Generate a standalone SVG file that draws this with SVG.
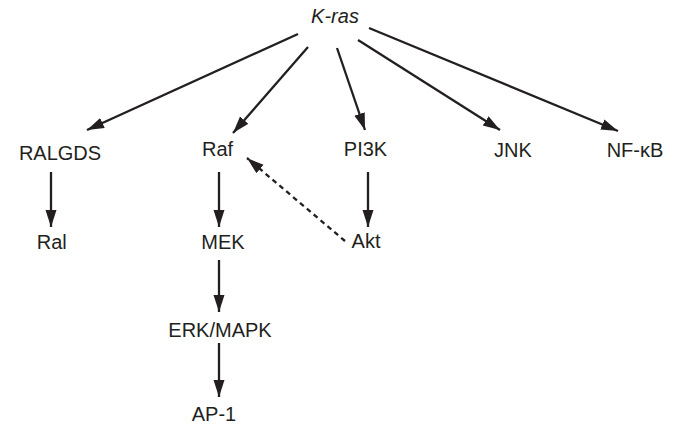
<svg xmlns="http://www.w3.org/2000/svg" width="681" height="426" viewBox="0 0 681 426">
<defs>
<marker id="ah" markerUnits="userSpaceOnUse" markerWidth="18" markerHeight="12" refX="17" refY="5.5" orient="auto">
<path d="M0,0 L17,5.5 L0,11 z" fill="#231f20"/>
</marker>
<style>
.t{font-family:"Liberation Sans",Arial,sans-serif;font-size:20px;fill:#231f20;text-anchor:middle}
.e{stroke:#231f20;stroke-width:2.3;fill:none;marker-end:url(#ah)}
.d{stroke-dasharray:5 4}
</style>
</defs>
<rect width="681" height="426" fill="#fff"/>
<g id="connectors">
<line class="e" x1="298" y1="34" x2="87" y2="130"/>
<line class="e" x1="308" y1="47" x2="233" y2="133"/>
<line class="e" x1="337" y1="48" x2="365" y2="130"/>
<line class="e" x1="358" y1="40" x2="500" y2="130"/>
<line class="e" x1="369" y1="28" x2="618" y2="131"/>
<line class="e" x1="51" y1="172" x2="51" y2="227"/>
<line class="e" x1="219" y1="172" x2="219" y2="227"/>
<line class="e" x1="368" y1="172" x2="368" y2="227"/>
<line class="e" x1="219" y1="260" x2="219" y2="312"/>
<line class="e" x1="219" y1="343" x2="219" y2="397"/>
<line class="e d" x1="345" y1="241" x2="247" y2="158"/>
</g>
<g id="kras"><text class="t" x="335" y="23" font-style="italic">K-ras</text></g>
<g id="ralgds"><text class="t" x="60" y="160">RALGDS</text></g>
<g id="raf"><text class="t" x="217.5" y="156">Raf</text></g>
<g id="pi3k"><text class="t" x="365.5" y="156">PI3K</text></g>
<g id="jnk"><text class="t" x="513" y="157">JNK</text></g>
<g id="nfkb"><text class="t" x="635" y="157">NF-κB</text></g>
<g id="ral"><text class="t" x="51.7" y="249">Ral</text></g>
<g id="mek"><text class="t" x="223" y="249">MEK</text></g>
<g id="akt"><text class="t" x="366" y="248">Akt</text></g>
<g id="erk"><text class="t" x="220" y="336.5">ERK/MAPK</text></g>
<g id="ap1"><text class="t" x="214" y="421">AP-1</text></g>
</svg>
